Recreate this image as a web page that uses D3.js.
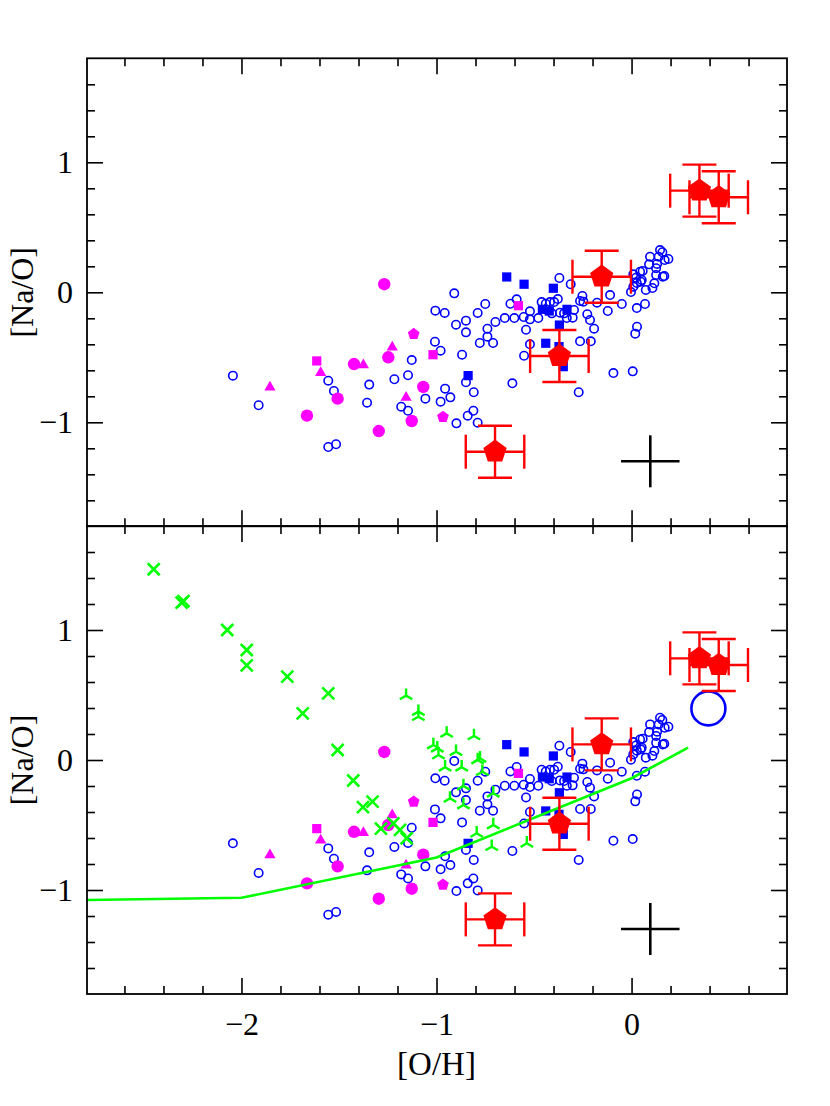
<!DOCTYPE html>
<html><head><meta charset="utf-8">
<script src="https://cdn.jsdelivr.net/npm/d3@7"></script>
<style>body{margin:0;background:#fff}svg{display:block}text{font-family:"Liberation Serif",serif;fill:#000}</style>
</head><body>
<svg id="c" width="830" height="1106"></svg>
<script>
// ---------- data ----------
const xDomain = [-2.792, 0.797];
const yDomain = [-1.8, 1.8];
const xMajorTicks = [-2, -1, 0];
const yMajorTicks = [-1, 0, 1];
const xMinorTicks = [-2.6,-2.4,-2.2,-1.8,-1.6,-1.4,-1.2,-0.8,-0.6,-0.4,-0.2,0.2,0.4,0.6];
const yMinorTicks = [-1.6,-1.4,-1.2,-0.8,-0.6,-0.4,-0.2,0.2,0.4,0.6,0.8,1.2,1.4,1.6];
const xLabel = "[O/H]";
const yLabel = "[Na/O]";

const blueOpen = [
[-2.044,-0.641],[-1.912,-0.869],[-1.555,-0.68],[-1.526,-0.759],[-1.345,-0.71],[-1.356,-0.849],[-1.555,-1.19],[-1.515,-1.169],
[-0.909,-0.008],[-1.006,-0.141],[-0.958,-0.159],[-0.9,-0.249],[-0.849,-0.218],[-0.849,-0.308],[-0.789,-0.159],[-0.75,-0.09],
[-0.739,-0.28],[-0.739,-0.341],[-0.778,-0.39],[-0.71,-0.39],[-0.698,-0.228],[-0.65,-0.198],[-0.601,-0.198],[-0.621,-0.088],
[-0.589,-0.054],[-0.553,-0.19],[-0.521,-0.146],[-0.521,-0.208],[-0.478,-0.198],[-0.541,-0.288],[-0.521,-0.4],[-0.551,-0.488],
[-0.461,-0.075],[-0.44,-0.088],[-0.418,-0.075],[-0.397,-0.075],[-0.378,-0.052],[-0.37,0.11],[-0.312,0.062],[-0.409,-0.162],
[-0.332,-0.198],[-0.302,-0.195],[-0.295,-0.136],[-0.264,-0.067],[-0.252,-0.028],[-0.247,-0.072],[-0.227,-0.169],[-0.213,-0.213],
[-0.192,-0.28],[-0.264,-0.377],[-0.209,-0.377],[-0.177,-0.08],[-0.122,-0.144],[-0.11,-0.021],[-0.05,-0.09],[-0.093,-0.621],
[0.006,-0.608],[-0.271,-0.769],[-0.611,-0.7],[-1.008,-0.38],[-0.979,-0.449],[-0.869,-0.48],[-1.127,-0.521],[-1.216,-0.669],
[-1.146,-0.638],[-1.181,-0.88],[-1.146,-0.911],[-1.057,-0.818],[-0.956,-0.741],[-0.929,-0.808],[-0.979,-0.841],[-0.849,-0.692],
[-0.809,-0.769],[-0.811,-0.911],[-0.84,-0.949],[-0.898,-1.008],[-0.789,-1.003],[0.027,-0.121],[-0.003,0.002],[0.028,-0.265],
[0.019,-0.318],[0.009,0.138],[0.023,0.112],[0.044,0.158],[0.057,0.164],[0.052,0.095],[0.073,0.018],[0.069,-0.09],
[0.095,0.274],[0.09,0.215],[0.027,0.072],[0.047,0.082],[0.107,0.033],[0.117,0.069],[0.126,0.133],[0.16,0.12],
[0.168,0.125],[0.131,0.218],[0.139,0.274],[0.146,0.325],[0.158,0.308],[0.17,0.248],[0.189,0.256],[0.126,0.185],
[0.009,0.043],[-0.346,-0.162],[-0.367,-0.157]
];
const blueSquares = [
[-0.64,0.118],[-0.551,0.062],[-0.401,0.031],[-0.457,-0.131],[-0.422,-0.144],[-0.331,-0.131],[-0.37,-0.252],
[-0.44,-0.392],[-0.372,-0.418],[-0.35,-0.572],[-0.838,-0.641]
];
const magentaCircles = [
[-1.268,0.062],[-1.247,-0.5],[-1.423,-0.552],[-1.068,-0.728],[-1.127,-0.99],[-1.296,-1.067],[-1.507,-0.818],[-1.664,-0.949]
];
const magentaTriangles = [
[-1.227,-0.423],[-1.375,-0.559],[-1.156,-0.81],[-1.594,-0.618],[-1.854,-0.731]
];
const magentaSquares = [[-1.018,-0.48],[-0.58,-0.103],[-1.614,-0.528]];
const magentaPentagons = [[-1.117,-0.321],[-0.967,-0.959]];

const redStarX = [-0.153, -0.37, -0.70, 0.348, 0.447];
const redStarY = [0.12, -0.49, -1.226, 0.782, 0.731];
const redStarXErr = [0.15, 0.15, 0.15, 0.15, 0.15];
const redStarYErr = [0.2, 0.2, 0.2, 0.2, 0.2];

const errCross = {x: 0.096, y: -1.3, xerr: 0.15, yerr: 0.2};

// bottom-panel only
const greenCrosses = [
[-2.45,1.467],[-2.307,1.21],[-2.297,1.222],[-2.073,1.0],[-1.973,0.846],[-1.973,0.728],[-1.765,0.641],[-1.555,0.513],
[-1.686,0.359],[-1.507,0.077],[-1.427,-0.158],[-1.377,-0.362],[-1.328,-0.32],[-1.285,-0.528],[-1.221,-0.487],[-1.187,-0.538],[-1.153,-0.602]
];
const greenTripods = [
[-1.156,0.495],[-1.093,0.372],[-1.093,0.333],[-0.948,0.205],[-0.808,0.185],[-1.016,0.115],[-0.996,0.09],[-0.9,0.064],
[-0.99,0.038],[-0.789,0.0],[-0.777,0.013],[-0.956,-0.056],[-0.871,-0.056],[-0.765,-0.09],[-0.862,-0.2],[-0.931,-0.295],
[-0.862,-0.346],[-0.709,-0.256],[-0.709,-0.5],[-0.794,-0.564],[-0.717,-0.667],[-0.537,-0.641]
];
const modelLineX = [-2.792, -2.0, -1.0, 0.0, 0.29];
const modelLineY = [-1.077, -1.06, -0.75, -0.14, 0.095];
const bigCircle = [0.394, 0.397];

// ---------- drawing ----------
const svg = d3.select("#c");
const L = 87, R = 787;
const x = d3.scaleLinear().domain(xDomain).range([L, R]);
const panels = [
  {top: 58.3, bottom: 526.3, bottomPanel: false},
  {top: 526.0, bottom: 994.0, bottomPanel: true}
];

const pentagon = {draw(ctx, size){ const r = Math.sqrt(size);
  for (let i=0;i<5;i++){ const a=-Math.PI/2+i*2*Math.PI/5; const px=r*Math.cos(a), py=r*Math.sin(a); if(i) ctx.lineTo(px,py); else ctx.moveTo(px,py);} ctx.closePath(); }};
const tripod = {draw(ctx, size){ const r = Math.sqrt(size);
  for (let i=0;i<3;i++){ const a=-Math.PI/2+i*2*Math.PI/3; ctx.moveTo(0,0); ctx.lineTo(r*Math.cos(a), r*Math.sin(a)); } }};
const xmark = {draw(ctx, size){ const r = Math.sqrt(size);
  ctx.moveTo(-r,-r); ctx.lineTo(r,r); ctx.moveTo(-r,r); ctx.lineTo(r,-r); }};

panels.forEach(p => {
  const y = d3.scaleLinear().domain(yDomain).range([p.bottom, p.top]);
  const g = svg.append("g");
  const W = R - L, H = p.bottom - p.top;

  const tickAxis = (axisFn, scale, vals, size, transform) => {
    const a = g.append("g").attr("transform", transform)
      .call(axisFn(scale).tickValues(vals).tickSize(size).tickFormat(""));
    a.select(".domain").remove();
    a.selectAll("line").attr("stroke", "#000").attr("stroke-width", 1.6);
  };
  tickAxis(d3.axisBottom, x, xMajorTicks, -16, `translate(0,${p.bottom})`);
  tickAxis(d3.axisBottom, x, xMinorTicks, -8, `translate(0,${p.bottom})`);
  tickAxis(d3.axisTop, x, xMajorTicks, -16, `translate(0,${p.top})`);
  tickAxis(d3.axisTop, x, xMinorTicks, -8, `translate(0,${p.top})`);
  tickAxis(d3.axisLeft, y, yMajorTicks, -16, `translate(${L},0)`);
  tickAxis(d3.axisLeft, y, yMinorTicks, -8, `translate(${L},0)`);
  tickAxis(d3.axisRight, y, yMajorTicks, -16, `translate(${R},0)`);
  tickAxis(d3.axisRight, y, yMinorTicks, -8, `translate(${R},0)`);

  const yl = g.append("g").attr("transform", `translate(${L},0)`)
    .call(d3.axisLeft(y).tickValues(yMajorTicks).tickSize(0).tickPadding(14).tickFormat(d3.format("d")));
  yl.select(".domain").remove();
  yl.selectAll("text").attr("font-size", 32).attr("font-family", "Liberation Serif");

  g.append("text").attr("transform", `translate(33,${y(0)}) rotate(-90)`)
    .attr("text-anchor", "middle").attr("font-size", 32).text(yLabel);

  const plot = g.append("g");

  plot.selectAll(".bo").data(blueOpen).join("circle")
    .attr("cx", d => x(d[0])).attr("cy", d => y(d[1])).attr("r", 4.2)
    .attr("fill", "none").attr("stroke", "#0000ff").attr("stroke-width", 1.6);
  plot.selectAll(".bs").data(blueSquares).join("path")
    .attr("transform", d => `translate(${x(d[0])},${y(d[1])})`)
    .attr("d", d3.symbol().type(d3.symbolSquare).size(85)).attr("fill", "#0000ff");
  plot.selectAll(".mc").data(magentaCircles).join("circle")
    .attr("cx", d => x(d[0])).attr("cy", d => y(d[1])).attr("r", 6.2).attr("fill", "#ff00ff");
  plot.selectAll(".mt").data(magentaTriangles).join("path")
    .attr("transform", d => `translate(${x(d[0])},${y(d[1])})`)
    .attr("d", d3.symbol().type(d3.symbolTriangle).size(55)).attr("fill", "#ff00ff");
  plot.selectAll(".ms").data(magentaSquares).join("path")
    .attr("transform", d => `translate(${x(d[0])},${y(d[1])})`)
    .attr("d", d3.symbol().type(d3.symbolSquare).size(85)).attr("fill", "#ff00ff");
  plot.selectAll(".mp").data(magentaPentagons).join("path")
    .attr("transform", d => `translate(${x(d[0])},${y(d[1])})`)
    .attr("d", d3.symbol().type(pentagon).size(38)).attr("fill", "#ff00ff");

  if (p.bottomPanel) {
    plot.selectAll(".gx").data(greenCrosses).join("path")
      .attr("transform", d => `translate(${x(d[0])},${y(d[1])})`)
      .attr("d", d3.symbol().type(xmark).size(36)).attr("fill", "none")
      .attr("stroke", "#00ff00").attr("stroke-width", 2.6);
    plot.selectAll(".gt").data(greenTripods).join("path")
      .attr("transform", d => `translate(${x(d[0])},${y(d[1])})`)
      .attr("d", d3.symbol().type(tripod).size(52)).attr("fill", "none")
      .attr("stroke", "#00ff00").attr("stroke-width", 2.4);
    const lineData = modelLineX.map((v, i) => [v, modelLineY[i]]);
    plot.append("path").datum(lineData)
      .attr("d", d3.line().x(d => x(d[0])).y(d => y(d[1])))
      .attr("fill", "none").attr("stroke", "#00ff00").attr("stroke-width", 2.6);
    plot.append("circle").attr("cx", x(bigCircle[0])).attr("cy", y(bigCircle[1])).attr("r", 17)
      .attr("fill", "none").attr("stroke", "#0000ff").attr("stroke-width", 2.6);
  }

  const stars = redStarX.map((v, i) => ({x: v, y: redStarY[i], xe: redStarXErr[i], ye: redStarYErr[i]}));
  const cap = 17;
  const eb = plot.selectAll(".eb").data(stars).join("g").attr("stroke", "#ff0000").attr("stroke-width", 2.4);
  eb.append("line").attr("x1", d => x(d.x - d.xe)).attr("x2", d => x(d.x + d.xe)).attr("y1", d => y(d.y)).attr("y2", d => y(d.y));
  eb.append("line").attr("x1", d => x(d.x)).attr("x2", d => x(d.x)).attr("y1", d => y(d.y - d.ye)).attr("y2", d => y(d.y + d.ye));
  eb.append("line").attr("x1", d => x(d.x - d.xe)).attr("x2", d => x(d.x - d.xe)).attr("y1", d => y(d.y) - cap).attr("y2", d => y(d.y) + cap);
  eb.append("line").attr("x1", d => x(d.x + d.xe)).attr("x2", d => x(d.x + d.xe)).attr("y1", d => y(d.y) - cap).attr("y2", d => y(d.y) + cap);
  eb.append("line").attr("x1", d => x(d.x) - cap).attr("x2", d => x(d.x) + cap).attr("y1", d => y(d.y - d.ye)).attr("y2", d => y(d.y - d.ye));
  eb.append("line").attr("x1", d => x(d.x) - cap).attr("x2", d => x(d.x) + cap).attr("y1", d => y(d.y + d.ye)).attr("y2", d => y(d.y + d.ye));
  plot.selectAll(".rp").data(stars).join("path")
    .attr("transform", d => `translate(${x(d.x)},${y(d.y)})`)
    .attr("d", d3.symbol().type(pentagon).size(150)).attr("fill", "#ff0000");

  const cg = plot.append("g").attr("stroke", "#000").attr("stroke-width", 2.6);
  cg.append("line").attr("x1", x(errCross.x - errCross.xerr)).attr("x2", x(errCross.x + errCross.xerr))
    .attr("y1", y(errCross.y)).attr("y2", y(errCross.y));
  cg.append("line").attr("x1", x(errCross.x)).attr("x2", x(errCross.x))
    .attr("y1", y(errCross.y - errCross.yerr)).attr("y2", y(errCross.y + errCross.yerr));

  g.append("rect").attr("x", L).attr("y", p.top).attr("width", W).attr("height", H)
    .attr("fill", "none").attr("stroke", "#000").attr("stroke-width", 1.8);

  if (p.bottomPanel) {
    const xl = g.append("g").attr("transform", `translate(0,${p.bottom})`)
      .call(d3.axisBottom(x).tickValues(xMajorTicks).tickSize(0).tickPadding(18).tickFormat(d3.format("d")));
    xl.select(".domain").remove();
    xl.selectAll("text").attr("font-size", 32).attr("font-family", "Liberation Serif");
    g.append("text").attr("x", x(-1)).attr("y", 1075).attr("text-anchor", "middle")
      .attr("font-size", 33).text(xLabel);
  }
});
</script>
</body></html>
